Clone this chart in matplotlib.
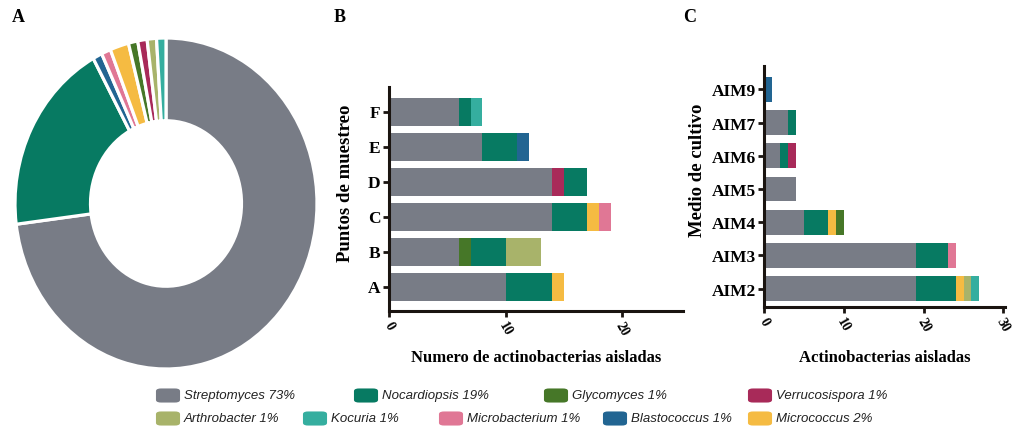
import matplotlib.pyplot as plt
import numpy as np
from matplotlib.patches import FancyBboxPatch

# genera and colours
genera = ["Streptomyces", "Nocardiopsis", "Glycomyces", "Verrucosispora",
          "Arthrobacter", "Kocuria", "Microbacterium", "Blastococcus", "Micrococcus"]
colors = {
    "Streptomyces": "#787c86",
    "Nocardiopsis": "#077a62",
    "Glycomyces": "#467728",
    "Verrucosispora": "#a82a59",
    "Arthrobacter": "#a8b36a",
    "Kocuria": "#35ae9f",
    "Microbacterium": "#e07795",
    "Blastococcus": "#226592",
    "Micrococcus": "#f5bb42",
}
percent = {"Streptomyces": 73, "Nocardiopsis": 19, "Glycomyces": 1, "Verrucosispora": 1,
           "Arthrobacter": 1, "Kocuria": 1, "Microbacterium": 1, "Blastococcus": 1,
           "Micrococcus": 2}

# donut, clockwise from the top
pie_order = ["Streptomyces", "Nocardiopsis", "Blastococcus", "Microbacterium",
             "Micrococcus", "Glycomyces", "Verrucosispora", "Arthrobacter", "Kocuria"]

# B: isolates per sampling point (stack order left -> right)
puntos = ["A", "B", "C", "D", "E", "F"]
stacks_b = {
    "A": [("Streptomyces", 10), ("Nocardiopsis", 4), ("Micrococcus", 1)],
    "B": [("Streptomyces", 6), ("Glycomyces", 1), ("Nocardiopsis", 3), ("Arthrobacter", 3)],
    "C": [("Streptomyces", 14), ("Nocardiopsis", 3), ("Micrococcus", 1), ("Microbacterium", 1)],
    "D": [("Streptomyces", 14), ("Verrucosispora", 1), ("Nocardiopsis", 2)],
    "E": [("Streptomyces", 8), ("Nocardiopsis", 3), ("Blastococcus", 1)],
    "F": [("Streptomyces", 6), ("Nocardiopsis", 1), ("Kocuria", 1)],
}

# C: isolates per culture medium
medios = ["AIM2", "AIM3", "AIM4", "AIM5", "AIM6", "AIM7", "AIM9"]
stacks_c = {
    "AIM2": [("Streptomyces", 19), ("Nocardiopsis", 5), ("Micrococcus", 1), ("Arthrobacter", 1), ("Kocuria", 1)],
    "AIM3": [("Streptomyces", 19), ("Nocardiopsis", 4), ("Microbacterium", 1)],
    "AIM4": [("Streptomyces", 5), ("Nocardiopsis", 3), ("Micrococcus", 1), ("Glycomyces", 1)],
    "AIM5": [("Streptomyces", 4)],
    "AIM6": [("Streptomyces", 2), ("Nocardiopsis", 1), ("Verrucosispora", 1)],
    "AIM7": [("Streptomyces", 3), ("Nocardiopsis", 1)],
    "AIM9": [("Blastococcus", 1)],
}

# legend rows
legend_rows = [
    ["Streptomyces", "Nocardiopsis", "Glycomyces", "Verrucosispora"],
    ["Arthrobacter", "Kocuria", "Microbacterium", "Blastococcus", "Micrococcus"],
]

W, H = 1015, 431
serif = "Liberation Serif"
sans = "Liberation Sans"

fig = plt.figure(figsize=(W / 100, H / 100), dpi=100)


def px_axes(left, top, right, bottom):
    return fig.add_axes([left / W, 1 - bottom / H, (right - left) / W, (bottom - top) / H])


# ---- A: donut
ax_a = px_axes(15, 39, 317, 370)
ax_a.pie([percent[g] for g in pie_order], colors=[colors[g] for g in pie_order],
         startangle=90, counterclock=False, radius=1,
         wedgeprops=dict(width=0.5, edgecolor="white", linewidth=2.3))
ax_a.set_aspect("auto")
ax_a.set_xlim(-1.0, 1.0)
ax_a.set_ylim(-1.0, 1.0)
ax_a.axis("off")


def stacked(ax, cats, stacks, height):
    for i, c in enumerate(cats):
        left = 0
        for g, v in stacks[c]:
            ax.barh(i, v, left=left, height=height, color=colors[g], linewidth=0)
            left += v
    ax.set_yticks(range(len(cats)))
    ax.set_yticklabels(cats, fontfamily=serif, fontweight="bold", fontsize=12.5)
    for s in ["top", "right"]:
        ax.spines[s].set_visible(False)
    for s in ["left", "bottom"]:
        ax.spines[s].set_linewidth(2.2)
        ax.spines[s].set_color("#1a1410")
    ax.tick_params(axis="both", direction="out", length=4, width=2, color="#1a1410", pad=2)
    for lab in ax.get_xticklabels():
        lab.set_fontfamily(serif)
        lab.set_fontweight("bold")
        lab.set_fontsize(10)
        lab.set_rotation(-60)
        lab.set_ha("center")
        lab.set_va("top")


# ---- B
ax_b = px_axes(389, 88, 683, 312)
ax_b.set_xlim(0, 25.2)
ax_b.set_ylim(-0.7, 5.7)
ax_b.set_xticks([0, 10, 20])
stacked(ax_b, puntos, stacks_b, 0.8)
ax_b.set_xlabel("Numero de actinobacterias aisladas", fontfamily=serif,
                fontweight="bold", fontsize=12, labelpad=8)
fig.text(345 / W, 1 - 183 / H, "Puntos de muestreo", rotation=90, ha="center", va="center",
         fontfamily=serif, fontweight="bold", fontsize=13.5)

# ---- C
ax_c = px_axes(764, 67, 1005, 308)
ax_c.set_xlim(0, 30.2)
ax_c.set_ylim(-0.55, 6.7)
ax_c.set_xticks([0, 10, 20, 30])
stacked(ax_c, medios, stacks_c, 0.75)
ax_c.set_xlabel("Actinobacterias aisladas", fontfamily=serif,
                fontweight="bold", fontsize=12, labelpad=11)
fig.text(697 / W, 1 - 170 / H, "Medio de cultivo", rotation=90, ha="center", va="center",
         fontfamily=serif, fontweight="bold", fontsize=13.5)

# panel letters
for x, letter in [(18, "A"), (340, "B"), (690, "C")]:
    fig.text(x / W, 1 - 17 / H, letter, ha="center", va="center",
             fontfamily=serif, fontweight="bold", fontsize=13)

# ---- legend
row_x = [[155, 353, 543, 747], [155, 302, 438, 602, 747]]
row_y = [396.5, 419.5]
for r, row in enumerate(legend_rows):
    for g, x in zip(row, row_x[r]):
        y = row_y[r]
        box = FancyBboxPatch(((x + 2) / W, 1 - (y + 6) / H), 22 / W, 12 / H,
                             boxstyle="round,pad=0,rounding_size=0.004",
                             transform=fig.transFigure, facecolor=colors[g],
                             edgecolor=colors[g], linewidth=1.5)
        fig.add_artist(box)
        fig.text((x + 29) / W, 1 - y / H, f"{g} {percent[g]}%", ha="left", va="center",
                 fontfamily=sans, style="italic", fontsize=9.5, color="#222222")

fig.savefig("out.png", dpi=100)
